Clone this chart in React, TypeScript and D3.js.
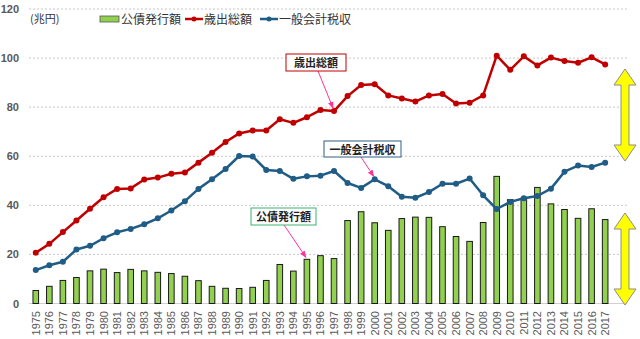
import React from "react";
import * as d3 from "d3";

const years = [
  "1975","1976","1977","1978","1979","1980","1981","1982","1983","1984",
  "1985","1986","1987","1988","1989","1990","1991","1992","1993","1994",
  "1995","1996","1997","1998","1999","2000","2001","2002","2003","2004",
  "2005","2006","2007","2008","2009","2010","2011","2012","2013","2014",
  "2015","2016","2017",
];
const slots = [...years, ""];

const bondIssuance = [
  5.3, 7.0, 9.4, 10.6, 13.3, 14.0, 12.6, 13.9, 13.3, 12.7,
  12.2, 11.1, 9.3, 7.0, 6.2, 6.1, 6.6, 9.4, 15.9, 13.2,
  18.0, 19.5, 18.3, 33.8, 37.4, 32.9, 29.8, 34.6, 35.2, 35.1,
  31.3, 27.3, 25.3, 33.0, 51.8, 42.3, 43.0, 47.3, 40.6, 38.3,
  34.7, 38.6, 34.2,
];
const expenditure = [
  20.7, 24.3, 29.1, 33.8, 38.6, 43.3, 46.7, 46.9, 50.5, 51.3,
  52.9, 53.4, 57.4, 61.4, 65.8, 69.3, 70.5, 70.5, 75.1, 73.6,
  75.9, 78.8, 78.4, 84.5, 89.0, 89.3, 84.8, 83.5, 82.3, 84.8,
  85.4, 81.5, 81.8, 84.8, 101.0, 95.2, 100.7, 97.0, 100.2, 98.8,
  98.1, 100.3, 97.4,
];
const taxRevenue = [
  13.6, 15.6, 17.0, 22.0, 23.5, 26.6, 29.0, 30.4, 32.3, 34.7,
  37.9, 41.7, 46.7, 50.6, 54.8, 60.1, 59.9, 54.4, 54.0, 50.8,
  51.8, 52.1, 54.0, 49.1, 47.1, 50.6, 47.8, 43.5, 43.1, 45.4,
  48.8, 48.8, 50.9, 44.1, 38.5, 41.4, 42.9, 43.8, 46.8, 53.7,
  56.2, 55.6, 57.4,
];
const yTicks = [0, 20, 40, 60, 80, 100, 120];
const legendLabels = ["公債発行額", "歳出総額", "一般会計税収"];
const unitLabel = "(兆円)";

const W = 640;
const H = 339;
const RED = "#c00000";
const BLUE = "#1f5c86";
const GREEN = "#92d050";
const PINK = "#ff3399";
const jp = "'Noto Sans CJK JP', 'Noto Sans', sans-serif";
const num = "'Liberation Sans', Arial, sans-serif";

function DoubleArrow({ x, y0, y1 }: { x: number; y0: number; y1: number }) {
  const hw = 11, sw = 4, hl = 16;
  const pts = [
    [x, y0], [x + hw, y0 + hl], [x + sw, y0 + hl], [x + sw, y1 - hl], [x + hw, y1 - hl],
    [x, y1], [x - hw, y1 - hl], [x - sw, y1 - hl], [x - sw, y0 + hl], [x - hw, y0 + hl],
  ];
  return (
    <polygon
      points={pts.map((p) => p.join(",")).join(" ")}
      fill="#ffff00"
      stroke="#8c8c8c"
      strokeWidth={1}
    />
  );
}

export default function App() {
  const x = d3.scaleBand<string>().domain(slots).range([29, 625.5]).padding(0);
  const y = d3.scaleLinear().domain([0, 120]).range([303.5, 9]);
  const cx = (i: number) => (x(years[i]) as number) + x.bandwidth() / 2;
  const barW = 5.6;

  const line = d3
    .line<number>()
    .x((_, i) => cx(i))
    .y((d) => y(d));

  const idx1997 = years.indexOf("1997");
  const idx2000 = years.indexOf("2000");
  const idx1995 = years.indexOf("1995");

  return (
    <svg width={W} height={H} style={{ position: "absolute", left: 0, top: 0, background: "#fff" }}>
      <defs>
        <marker id="ah" viewBox="0 0 10 10" refX="9" refY="5" markerWidth="7" markerHeight="7" orient="auto">
          <path d="M0,1 L10,5 L0,9 Z" fill={PINK} />
        </marker>
      </defs>

      {/* gridlines */}
      {yTicks.filter((t) => t > 0).map((t) => (
        <line key={t} x1={29} x2={627} y1={y(t)} y2={y(t)} stroke="#c8c8c8" strokeWidth={1} strokeDasharray="2,2" />
      ))}
      <line x1={29} x2={627} y1={y(0)} y2={y(0)} stroke="#d0d0d0" strokeWidth={1} />

      {/* y tick labels */}
      {yTicks.map((t) => (
        <text key={t} x={19} y={y(t) + 4} textAnchor="end" fontFamily={num} fontWeight="bold" fontSize={11} fill="#595959">
          {t}
        </text>
      ))}
      <text x={30} y={23} fontFamily={jp} fontSize={11} fill="#333">{unitLabel}</text>

      {/* x labels */}
      {years.map((yr, i) => (
        <text
          key={yr}
          transform={`translate(${cx(i) + 4},${311}) rotate(-90)`}
          textAnchor="end"
          fontFamily={num}
          fontSize={11}
          fill="#595959"
        >
          {yr}
        </text>
      ))}

      {/* bars */}
      {bondIssuance.map((v, i) => (
        <rect
          key={i}
          x={cx(i) - barW / 2}
          y={y(v)}
          width={barW}
          height={y(0) - y(v)}
          fill={GREEN}
          stroke="#1a1a1a"
          strokeWidth={1}
        />
      ))}

      {/* lines */}
      <path d={line(expenditure) || ""} fill="none" stroke={RED} strokeWidth={2.5} strokeLinejoin="round" />
      {expenditure.map((v, i) => (
        <circle key={i} cx={cx(i)} cy={y(v)} r={3} fill={RED} />
      ))}
      <path d={line(taxRevenue) || ""} fill="none" stroke={BLUE} strokeWidth={2.5} strokeLinejoin="round" />
      {taxRevenue.map((v, i) => (
        <circle key={i} cx={cx(i)} cy={y(v)} r={3} fill={BLUE} />
      ))}

      {/* legend */}
      <rect x={100} y={16} width={19} height={6} fill={GREEN} stroke="#555" strokeWidth={0.8} />
      <text x={121} y={24} fontFamily={jp} fontSize={12} fill="#333">{legendLabels[0]}</text>
      <line x1={185} x2={203} y1={19} y2={19} stroke={RED} strokeWidth={2.5} />
      <circle cx={194} cy={19} r={2.5} fill={RED} />
      <text x={204} y={24} fontFamily={jp} fontSize={12} fill="#333">{legendLabels[1]}</text>
      <line x1={260} x2={278} y1={19} y2={19} stroke={BLUE} strokeWidth={2.5} />
      <circle cx={269} cy={19} r={2.5} fill={BLUE} />
      <text x={279} y={24} fontFamily={jp} fontSize={12} fill="#333">{legendLabels[2]}</text>

      {/* annotations */}
      <line x1={318} y1={71} x2={cx(idx1997) - 1} y2={y(expenditure[idx1997]) - 3} stroke={PINK} strokeWidth={1} markerEnd="url(#ah)" />
      <rect x={286} y={54} width={60} height={17} fill="#fff" stroke={RED} strokeWidth={1} />
      <text x={316} y={67} textAnchor="middle" fontFamily={jp} fontSize={11} fontWeight="bold" fill="#222">{legendLabels[1]}</text>

      <line x1={361} y1={157} x2={cx(idx2000) - 1} y2={y(taxRevenue[idx2000]) - 3} stroke={PINK} strokeWidth={1} markerEnd="url(#ah)" />
      <rect x={324} y={141} width={77} height={16} fill="#fff" stroke="#2e5f80" strokeWidth={1} />
      <text x={362.5} y={153.5} textAnchor="middle" fontFamily={jp} fontSize={11} fontWeight="bold" fill="#222">{legendLabels[2]}</text>

      <line x1={284} y1={225} x2={cx(idx1995) - 1} y2={y(bondIssuance[idx1995]) - 2} stroke={PINK} strokeWidth={1} markerEnd="url(#ah)" />
      <rect x={251} y={208} width={65} height={17} fill="#fff" stroke="#3cb371" strokeWidth={1} />
      <text x={283.5} y={221} textAnchor="middle" fontFamily={jp} fontSize={11} fontWeight="bold" fill="#222">{legendLabels[0]}</text>

      {/* yellow double arrows */}
      <DoubleArrow x={625} y0={69} y1={161} />
      <DoubleArrow x={625} y0={213} y1={305} />
    </svg>
  );
}
